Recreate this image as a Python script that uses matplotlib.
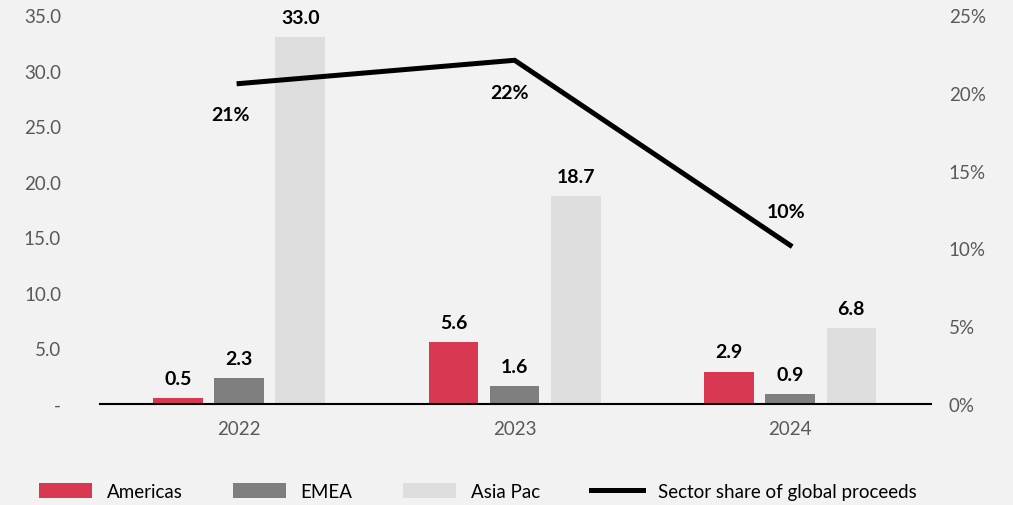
import matplotlib
matplotlib.use("Agg")
import matplotlib.pyplot as plt
import numpy as np

plt.rcParams["font.family"] = ["Lato", "DejaVu Sans"]

# data
YEARS = ["2022", "2023", "2024"]
AMERICAS = [0.5, 5.6, 2.9]
EMEA = [2.3, 1.6, 0.9]
ASIA_PAC = [33.0, 18.7, 6.8]
SECTOR_SHARE = [0.206, 0.221, 0.102]

COLOR_AM = "#d93852"
COLOR_EMEA = "#7f7f7f"
COLOR_AP = "#dedede"
BG = "#f2f2f2"
TICK_COLOR = "#595959"

fig = plt.figure(figsize=(10.13, 5.06), dpi=100, facecolor=BG)
ax = fig.add_axes([0.0987, 0.2, 0.82, 0.768])
ax.set_facecolor(BG)

x = np.arange(len(YEARS))
width = 0.18
offset = 0.222

b1 = ax.bar(x - offset, AMERICAS, width, color=COLOR_AM, label="Americas", zorder=2)
b2 = ax.bar(x, EMEA, width, color=COLOR_EMEA, label="EMEA", zorder=2)
b3 = ax.bar(x + offset, ASIA_PAC, width, color=COLOR_AP, label="Asia Pac", zorder=2)

# bar value labels
for bars, vals in [(b1, AMERICAS), (b2, EMEA), (b3, ASIA_PAC)]:
    for rect, v in zip(bars, vals):
        ax.annotate(f"{v:.1f}", xy=(rect.get_x() + rect.get_width() / 2, v),
                    xytext=(0, 8), textcoords="offset points",
                    ha="center", va="bottom", fontsize=14, fontweight="bold")

ax.set_xlim(-0.505, 2.51)
ax.set_ylim(0, 35)
ax.set_yticks(np.arange(0, 36, 5))
ax.yaxis.set_major_formatter(plt.FuncFormatter(lambda v, _: "-" if v == 0 else f"{v:.1f}"))
ax.set_xticks(x)
ax.set_xticklabels(YEARS)
ax.tick_params(axis="y", length=0, pad=28, labelsize=13.5, labelcolor=TICK_COLOR)
ax.tick_params(axis="x", length=0, pad=12, labelsize=13.5, labelcolor=TICK_COLOR)
for s in ["top", "right", "left"]:
    ax.spines[s].set_visible(False)
ax.spines["bottom"].set_linewidth(1.5)
ax.spines["bottom"].set_color("black")
ax.spines["bottom"].set_zorder(3)

# secondary axis: sector share line
ax2 = ax.twinx()
ax2.set_ylim(0, 0.25)
ax2.set_yticks(np.arange(0, 0.26, 0.05))
ax2.yaxis.set_major_formatter(plt.FuncFormatter(lambda v, _: f"{v:.0%}"))
ax2.tick_params(axis="y", length=0, pad=13, labelsize=13.5, labelcolor=TICK_COLOR)
for s in ["top", "right", "left", "bottom"]:
    ax2.spines[s].set_visible(False)

ln, = ax2.plot(x, SECTOR_SHARE, color="black", linewidth=3.6,
               label="Sector share of global proceeds", zorder=4)
label_offsets = [(-6, -22), (-4, -23), (-3, 24)]
for xi, v, off in zip(x, SECTOR_SHARE, label_offsets):
    ax2.annotate(f"{v:.0%}", xy=(xi, v), xytext=off, textcoords="offset points",
                 ha="center", va="center", fontsize=14, fontweight="bold")

handles = [b1, b2, b3, ln]
fig.legend(handles, [h.get_label() for h in handles], loc="center left",
           bbox_to_anchor=(0.022, 0.027), ncol=4, frameon=False, fontsize=13.5,
           handlelength=2.8, handleheight=0.9, columnspacing=2.7, handletextpad=0.8)

fig.savefig("out.png", dpi=100, facecolor=BG)
